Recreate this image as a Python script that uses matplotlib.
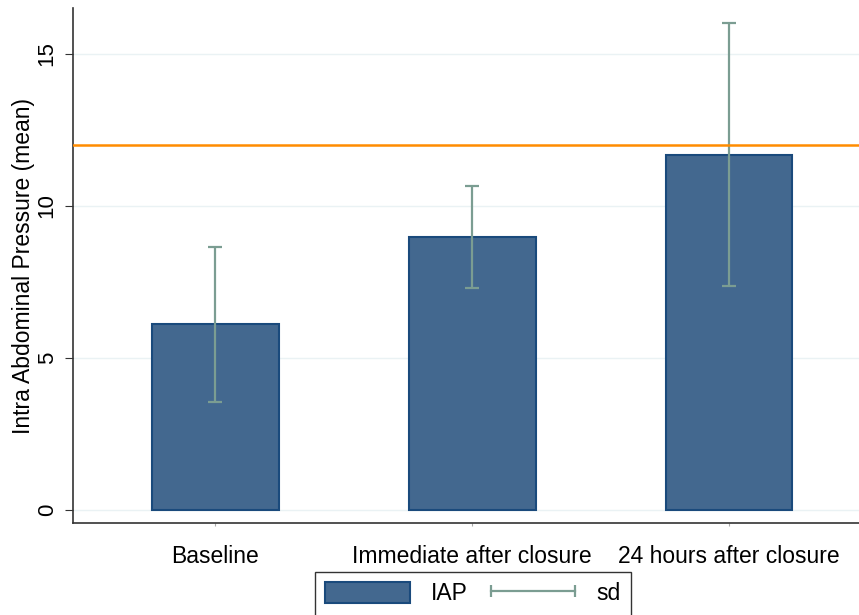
import matplotlib.pyplot as plt
from matplotlib.lines import Line2D
from matplotlib.patches import Patch
from matplotlib.legend_handler import HandlerLine2D

plt.rcParams['font.family'] = ['Liberation Sans', 'DejaVu Sans']

# data
groups = ['Baseline', 'Immediate after closure', '24 hours after closure']
iap_mean = [6.1, 8.98, 11.68]
iap_sd = [2.55, 1.68, 4.32]
threshold = 12

bar_color = '#43688f'
edge_color = '#1a4a7c'
err_color = '#7b9d92'
line_color = '#ff8c00'

fig = plt.figure(figsize=(8.59, 6.15), dpi=100)
ax = fig.add_axes([73 / 859, 1 - 523 / 615, (859 - 73) / 859, (523 - 8) / 615])

x = list(range(len(groups)))
ax.bar(x, iap_mean, width=0.494, color=bar_color, edgecolor=edge_color, linewidth=1.5, zorder=2)
ax.errorbar(x, iap_mean, yerr=iap_sd, fmt='none', ecolor=err_color, elinewidth=1.6,
            capsize=5, capthick=1.6, zorder=3)
ax.axhline(threshold, color=line_color, linewidth=1.8, zorder=4)

ax.set_xlim(-0.553, 2.506)
ax.set_ylim(-0.43, 16.5)
ax.set_yticks([0, 5, 10, 15])
ax.set_yticklabels(['0', '5', '10', '15'], rotation=90, va='center', fontsize=16)
ax.set_xticks(x)
ax.set_xticklabels(groups, fontsize=16.5)
ax.tick_params(axis='x', length=2, pad=14, color='#aaaaaa')
ax.tick_params(axis='y', length=6, pad=5, color='#333333')
ax.grid(axis='y', color='#eaf2f4', linewidth=1, zorder=0)
ax.set_ylabel('Intra Abdominal Pressure (mean)', fontsize=16.5, labelpad=1)

for s in ['top', 'right']:
    ax.spines[s].set_visible(False)
for s in ['left', 'bottom']:
    ax.spines[s].set_color('#333333')
    ax.spines[s].set_linewidth(1.2)

sd_handle = Line2D([], [], color=err_color, linewidth=1.6, marker='|', markersize=9,
                   markeredgewidth=1.6)
handles = [Patch(facecolor=bar_color, edgecolor=edge_color, linewidth=1.5), sd_handle]
fig.legend(handles, ['IAP', 'sd'], loc='upper left', bbox_to_anchor=(315 / 859, 1 - 572 / 615),
           ncol=2, fontsize=16.5, frameon=True, fancybox=False, edgecolor='#333333',
           handlelength=3.7, handleheight=1.0, numpoints=2, columnspacing=1.0,
           handletextpad=0.9, borderpad=0.45, borderaxespad=0, framealpha=1,
           handler_map={Line2D: HandlerLine2D(marker_pad=0)})

fig.savefig('out.png', dpi=100)
